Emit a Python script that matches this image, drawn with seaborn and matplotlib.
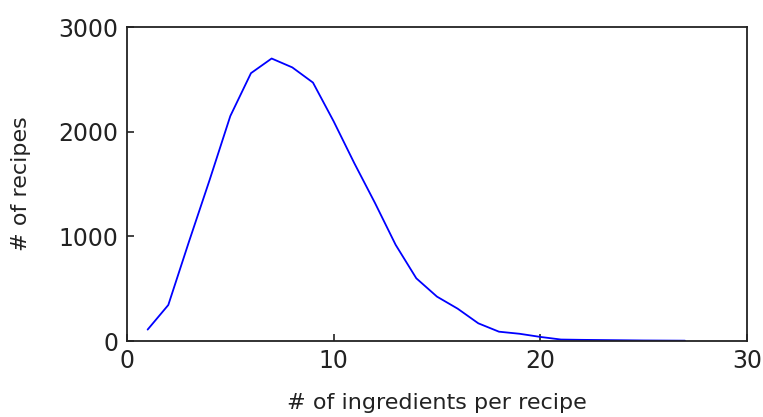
import matplotlib
matplotlib.use("Agg")
import matplotlib.pyplot as plt
import seaborn as sns
import pandas as pd

ingredients = list(range(1, 28))
recipes = [110, 345, 950, 1540, 2150, 2560, 2700, 2615, 2470, 2100, 1700, 1320,
           920, 600, 425, 310, 170, 90, 70, 40, 15, 12, 10, 8, 6, 5, 4]
x_ticks = [0, 10, 20, 30]
y_ticks = [0, 1000, 2000, 3000]

sns.set_style("white")
plt.rcParams['font.family'] = ['DejaVu Sans']

df = pd.DataFrame({"ingredients": ingredients, "recipes": recipes})

fig = plt.figure(figsize=(7.63, 4.17), dpi=100)
ax = fig.add_axes([0.1664, 0.182, 0.8126, 0.753])
sns.lineplot(data=df, x="ingredients", y="recipes", ax=ax, color="#0000ff", linewidth=1.3)

ax.set_xlim(0, 30)
ax.set_ylim(0, 3000)
ax.set_xticks(x_ticks)
ax.set_yticks(y_ticks)
ax.set_xticklabels([str(t) for t in x_ticks])
ax.set_yticklabels([str(t) for t in y_ticks])
ax.tick_params(axis="both", direction="in", length=5, width=1.2, labelsize=17,
               colors="#222222", pad=6, left=True, bottom=True)
for s in ax.spines.values():
    s.set_color("#222222")
    s.set_linewidth(1.3)

ax.set_xlabel("# of ingredients per recipe", fontsize=16, labelpad=14, color="#222222")
ax.set_ylabel("# of recipes", fontsize=16, labelpad=20, color="#222222")

fig.savefig("out.png", dpi=100, facecolor="white")
